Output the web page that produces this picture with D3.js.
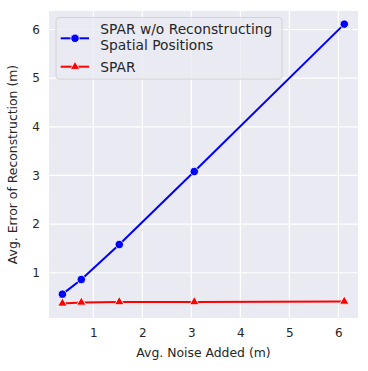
<!DOCTYPE html>
<html>
<head>
<meta charset="utf-8">
<script src="https://cdn.jsdelivr.net/npm/d3@7"></script>
<style>
  body { margin: 0; background: #ffffff; }
  svg { display: block; font-family: "DejaVu Sans", sans-serif; }
</style>
</head>
<body>
<div id="chart"></div>
<script>
// noise added (x) for each run
const noiseAdded = [0.37, 0.755, 1.53, 3.06, 6.12];
// reconstruction error per method
const errorNoRecon = [0.56, 0.86, 1.58, 3.08, 6.11];
const errorSpar = [0.37, 0.39, 0.40, 0.40, 0.41];
const seriesNames = ["SPAR w/o Reconstructing\nSpatial Positions", "SPAR"];
const xTicks = [1, 2, 3, 4, 5, 6];
const yTicks = [1, 2, 3, 4, 5, 6];

function main() {
    const svgWidth = 368;
    const svgHeight = 371;
    const margin = {top: 11, right: 10, bottom: 53, left: 49};
    const width = svgWidth - margin.left - margin.right;
    const height = svgHeight - margin.top - margin.bottom;

    const svg = d3.select('#chart').append('svg')
        .attr('width', svgWidth)
        .attr('height', svgHeight);

    const g = svg.append('g')
        .attr('transform', `translate(${margin.left},${margin.top})`);

    const xScale = d3.scaleLinear().domain([0.096, 6.40]).range([0, width]);
    const yScale = d3.scaleLinear().domain([0.07, 6.38]).range([height, 0]);

    g.append('rect')
        .attr('width', width)
        .attr('height', height)
        .attr('fill', '#eaeaf2');

    // grid
    g.append('g').selectAll('line').data(xTicks).enter().append('line')
        .attr('x1', d => xScale(d)).attr('x2', d => xScale(d))
        .attr('y1', 0).attr('y2', height)
        .attr('stroke', '#ffffff').attr('stroke-width', 1.2);
    g.append('g').selectAll('line').data(yTicks).enter().append('line')
        .attr('y1', d => yScale(d)).attr('y2', d => yScale(d))
        .attr('x1', 0).attr('x2', width)
        .attr('stroke', '#ffffff').attr('stroke-width', 1.2);

    const xAxis = g.append('g')
        .attr('transform', `translate(0,${height})`)
        .call(d3.axisBottom(xScale).tickValues(xTicks).tickSize(0).tickPadding(10).tickFormat(d3.format('d')));
    const yAxis = g.append('g')
        .call(d3.axisLeft(yScale).tickValues(yTicks).tickSize(0).tickPadding(9).tickFormat(d3.format('d')));
    [xAxis, yAxis].forEach(a => {
        a.select('.domain').remove();
        a.selectAll('text')
            .style('font-family', '"DejaVu Sans", sans-serif')
            .style('font-size', '12px')
            .attr('fill', '#262626');
    });

    svg.append('text')
        .attr('x', margin.left + width / 2)
        .attr('y', 357)
        .attr('text-anchor', 'middle')
        .attr('fill', '#262626')
        .style('font-size', '12.4px')
        .text('Avg. Noise Added (m)');

    svg.append('text')
        .attr('transform', `translate(17,${margin.top + height / 2}) rotate(-90)`)
        .attr('text-anchor', 'middle')
        .attr('fill', '#262626')
        .style('font-size', '12.4px')
        .text('Avg. Error of Reconstruction (m)');

    const blueData = noiseAdded.map((x, i) => ({x: x, y: errorNoRecon[i]}));
    const redData = noiseAdded.map((x, i) => ({x: x, y: errorSpar[i]}));

    const lineGen = d3.line().x(d => xScale(d.x)).y(d => yScale(d.y));

    g.append('path').datum(blueData)
        .attr('d', lineGen).attr('fill', 'none')
        .attr('stroke', '#0000ff').attr('stroke-width', 2);
    g.append('path').datum(redData)
        .attr('d', lineGen).attr('fill', 'none')
        .attr('stroke', '#ff0000').attr('stroke-width', 2);

    g.selectAll('.blue-pt').data(blueData).enter().append('circle')
        .attr('class', 'blue-pt')
        .attr('cx', d => xScale(d.x)).attr('cy', d => yScale(d.y))
        .attr('r', 4.2).attr('fill', '#0000ff')
        .attr('stroke', '#ffffff').attr('stroke-width', 0.8);

    const tri = d3.symbol().type(d3.symbolTriangle).size(38);
    g.selectAll('.red-pt').data(redData).enter().append('path')
        .attr('class', 'red-pt')
        .attr('d', tri)
        .attr('transform', d => `translate(${xScale(d.x)},${yScale(d.y)})`)
        .attr('fill', '#ff0000')
        .attr('stroke', '#ffffff').attr('stroke-width', 0.8);

    // legend
    const legend = svg.append('g').attr('transform', 'translate(56,17.5)');
    legend.append('rect')
        .attr('width', 226).attr('height', 61.5)
        .attr('rx', 3)
        .attr('fill', '#eaeaf2').attr('fill-opacity', 0.8)
        .attr('stroke', '#cccccc').attr('stroke-width', 0.8);

    const rows = [
        {name: seriesNames[0], color: '#0000ff', shape: 'circle', y: 20.8, ty: 16.8},
        {name: seriesNames[1], color: '#ff0000', shape: 'triangle', y: 49.2, ty: 54.2}
    ];
    rows.forEach(r => {
        legend.append('line')
            .attr('x1', 4.7).attr('x2', 33).attr('y1', r.y).attr('y2', r.y)
            .attr('stroke', r.color).attr('stroke-width', 2);
        if (r.shape === 'circle') {
            legend.append('circle').attr('cx', 19).attr('cy', r.y).attr('r', 4.2)
                .attr('fill', r.color).attr('stroke', '#ffffff').attr('stroke-width', 0.8);
        } else {
            legend.append('path').attr('d', tri).attr('transform', `translate(19,${r.y})`)
                .attr('fill', r.color).attr('stroke', '#ffffff').attr('stroke-width', 0.8);
        }
        const t = legend.append('text')
            .attr('y', r.ty)
            .attr('fill', '#262626')
            .style('font-size', '13.8px');
        r.name.split('\n').forEach((l, j) => {
            t.append('tspan').attr('x', 44.3).attr('dy', j === 0 ? 0 : 15.7).text(l);
        });
    });
}

main();
</script>
</body>
</html>
